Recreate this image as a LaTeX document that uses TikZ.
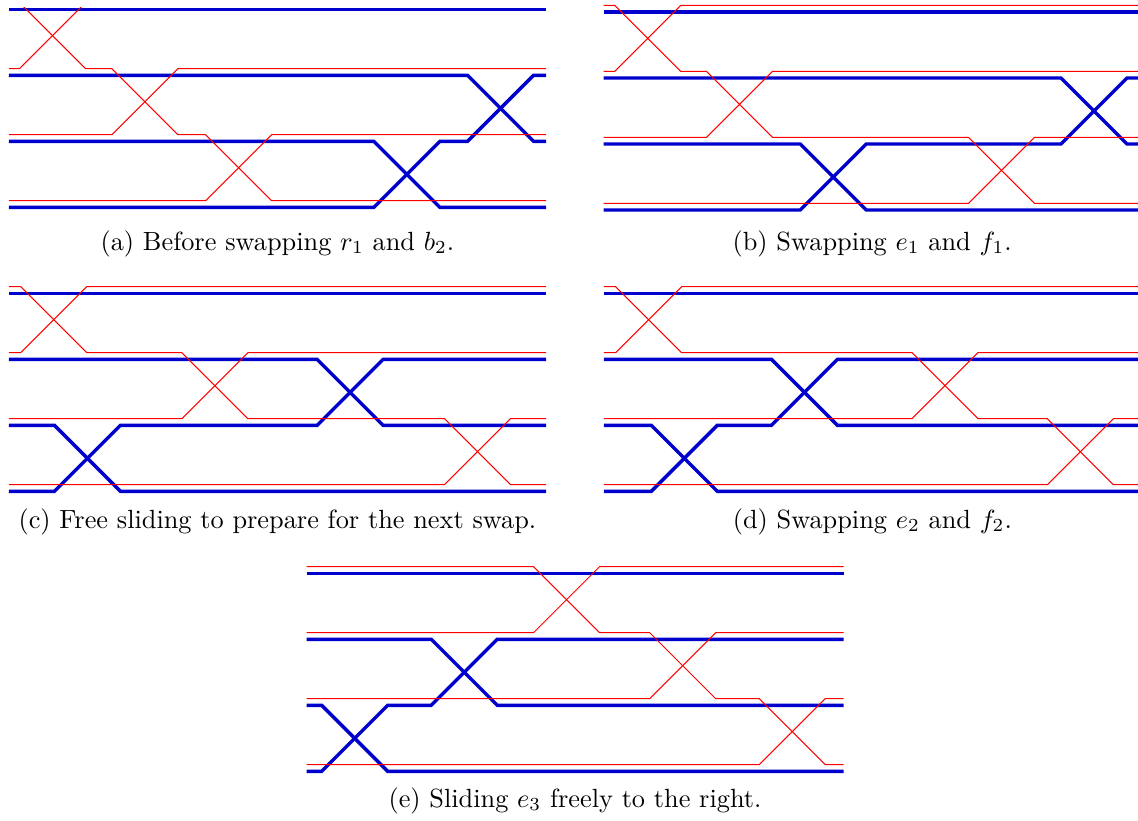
\documentclass[tikz,border=0pt]{standalone}
\usepackage{amsmath,amssymb}
\usepackage{xcolor}
\usepackage{tikz}
\definecolor{wireblue}{RGB}{0,0,205}

\newcommand{\wirelen}{8.14}
% red swaps at #1 (levels 0-1), #2 (1-2), #3 (2-3); blue swaps at #4 (2-3), #5 (1-2)
\newcommand{\drawwires}[5]{%
  \draw[blue wire] (0,0) -- (\wirelen,0);
  \draw[blue wire] (0,1) -- (#5,1) -- ({#5+1},2) -- (\wirelen,2);
  \draw[blue wire] (0,2) -- (#4,2) -- ({#4+1},3) -- (\wirelen,3);
  \draw[blue wire] (0,3) -- (#4,3) -- ({#4+1},2) -- (#5,2) -- ({#5+1},1) -- (\wirelen,1);
  \draw[red wire] (0,-.1) -- (#1,-.1) -- ({#1+1},.9) -- (#2,.9) -- ({#2+1},1.9) -- (#3,1.9) -- ({#3+1},2.9) -- (\wirelen,2.9);
  \draw[red wire] (0,.9) -- (#1,.9) -- ({#1+1},-.1) -- (\wirelen,-.1);
  \draw[red wire] (0,1.9) -- (#2,1.9) -- ({#2+1},.9) -- (\wirelen,.9);
  \draw[red wire] (0,2.9) -- (#3,2.9) -- ({#3+1},1.9) -- (\wirelen,1.9);
}

\begin{document}
\begin{tikzpicture}[x=0.38pt,y=-0.38pt,
    blue wire/.style={wireblue,line width=1.3pt},
    red wire/.style={red,line width=0.4pt},
    panel/.style={x=25.08pt,y=-25.08pt},
    caption/.style={anchor=base,inner sep=0pt}]
  \useasboundingbox (0,0) rectangle (1138,820);

  % (a)
  \begin{scope}[shift={(8.9,9.3)},panel]
    \clip (-0.1,-0.026) rectangle (8.3,3.2);
    \drawwires{0.16}{1.56}{2.98}{5.53}{6.95}
  \end{scope}
  % (b)
  \begin{scope}[shift={(603.6,12)},panel]
    \drawwires{0.17}{1.56}{5.53}{2.98}{6.93}
  \end{scope}
  % (c)
  \begin{scope}[shift={(8.9,293.3)},panel]
    \drawwires{0.18}{2.62}{6.60}{0.69}{4.67}
  \end{scope}
  % (d)
  \begin{scope}[shift={(603.8,293.3)},panel]
    \drawwires{0.18}{4.67}{6.72}{0.72}{2.54}
  \end{scope}
  % (e)
  \begin{scope}[shift={(306.5,573.3)},panel]
    \drawwires{3.44}{5.20}{6.86}{0.23}{1.89}
  \end{scope}

  \node[caption] (cap-a) at (277.4,250) {(a) Before swapping $r_1$ and $b_2$.};
  \node[caption] (cap-b) at (872.1,250) {(b) Swapping $e_1$ and $f_1$.};
  \node[caption] (cap-c) at (277.4,528) {(c) Free sliding to prepare for the next swap.};
  \node[caption] (cap-d) at (872.3,528) {(d) Swapping $e_2$ and $f_2$.};
  \node[caption] (cap-e) at (575.0,807) {(e) Sliding $e_3$ freely to the right.};
\end{tikzpicture}
\end{document}
